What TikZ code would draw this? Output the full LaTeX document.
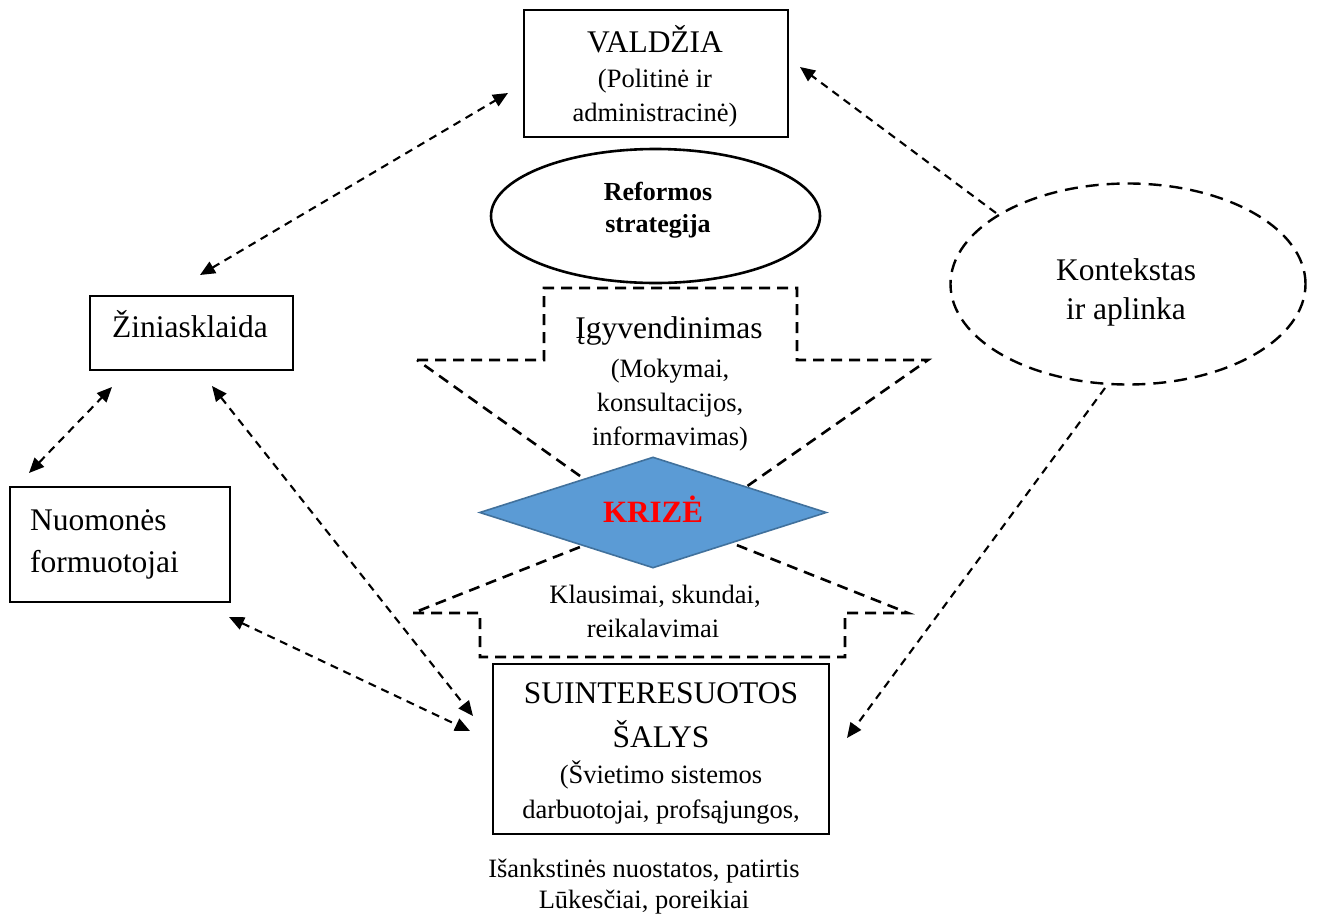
\documentclass[tikz,border=0pt]{standalone}
\usepackage{fontspec}
\setmainfont{Liberation Serif}
\usetikzlibrary{arrows.meta,shapes.geometric}
\definecolor{crisisfill}{HTML}{5B9BD5}
\definecolor{crisisedge}{HTML}{41719C}
\definecolor{crisisred}{HTML}{FF0000}
\tikzset{
  txtbig/.style={font=\fontsize{31.5}{36}\selectfont, inner sep=0pt, anchor=base},
  txtsmall/.style={font=\fontsize{26.5}{32}\selectfont, inner sep=0pt, anchor=base},
  txtbold/.style={font=\fontsize{26}{30}\selectfont\bfseries, inner sep=0pt, anchor=base},
  solidbox/.style={draw, line width=2pt, inner sep=0pt},
  bigarrow/.style={draw, line width=2.6pt, dash pattern=on 11pt off 7pt},
  conn/.style={line width=2.1pt, dash pattern=on 8pt off 6pt,
    {Triangle[length=15pt,width=13pt]}-{Triangle[length=15pt,width=13pt]}},
  conn1/.style={line width=2.1pt, dash pattern=on 8pt off 6pt,
    -{Triangle[length=15pt,width=13pt]}}
}
\begin{document}
\begin{tikzpicture}[x=1pt,y=-1pt]
\useasboundingbox (0,0) rectangle (1317,918);
\fill[white] (0,0) rectangle (1317,918);

% Reformos strategija ellipse
\node[solidbox, ellipse, line width=2.6pt, minimum width=329pt, minimum height=134pt] (ref) at (655.5,216) {};
\node[txtbold] (reft1) at (658,200) {Reformos};
\node[txtbold] (reft2) at (658,232) {strategija};

% implementation arrow (down)
\path[bigarrow] (417,360) -- (544,360) -- (544,288) -- (797,288) -- (797,360) -- (928,360) -- (670,540) -- cycle;
% feedback arrow (up)
\path[bigarrow] (413,613) -- (480,613) -- (480,657) -- (845,657) -- (845,613) -- (908,613) -- (661,515) -- cycle;

% crisis diamond
\node[diamond, fill=crisisfill, draw=crisisedge, line width=1.6pt, inner sep=0pt,
      minimum width=347pt, minimum height=111pt] (kriz) at (653,512.5) {};
\node[font=\fontsize{31}{36}\selectfont\bfseries, text=crisisred, inner sep=0pt, anchor=base] (krizt) at (653,522) {KRIZĖ};

\node[txtbig] (igy1) at (669,338) {Įgyvendinimas};
\node[txtsmall] (igy2) at (670,377) {(Mokymai,};
\node[txtsmall] (igy3) at (670,411) {konsultacijos,};
\node[txtsmall] (igy4) at (670,445) {informavimas)};

\node[txtsmall] (kla1) at (655,603) {Klausimai, skundai,};
\node[txtsmall] (kla2) at (653,637) {reikalavimai};

% VALDZIA
\node[solidbox, minimum width=264pt, minimum height=127pt] (val) at (656,73.5) {};
\node[txtbig] (valt1) at (655,52) {VALDŽIA};
\node[txtsmall] (valt2) at (655,87) {(Politinė ir};
\node[txtsmall] (valt3) at (655,121) {administracinė)};

% Ziniasklaida
\node[solidbox, minimum width=203pt, minimum height=74pt] (zin) at (191.5,333) {};
\node[txtbig] (zint) at (190,337) {Žiniasklaida};

% Nuomones formuotojai
\node[solidbox, minimum width=220pt, minimum height=115pt] (nuo) at (120,544.5) {};
\node[txtbig, anchor=base west] (nuot1) at (30,530) {Nuomonės};
\node[txtbig, anchor=base west] (nuot2) at (30,572) {formuotojai};

% Suinteresuotos salys
\node[solidbox, minimum width=336pt, minimum height=170pt] (sui) at (661,748.5) {};
\node[txtbig] (suit1) at (661,703) {SUINTERESUOTOS};
\node[txtbig] (suit2) at (661,747) {ŠALYS};
\node[txtsmall] (suit3) at (661,783) {(Švietimo sistemos};
\node[txtsmall] (suit4) at (661,818) {darbuotojai, profsąjungos,};

\node[txtsmall] (isa1) at (644,877) {Išankstinės nuostatos, patirtis};
\node[txtsmall] (isa2) at (644,908) {Lūkesčiai, poreikiai};

% Kontekstas ir aplinka
\node[bigarrow, ellipse, line width=2.4pt, dash pattern=on 13pt off 8pt, inner sep=0pt, minimum width=355pt, minimum height=201pt] (kon) at (1128,284) {};
\node[txtbig] (kont1) at (1126,280) {Kontekstas};
\node[txtbig] (kont2) at (1126,319) {ir aplinka};

% connector end points
\coordinate (val-w) at (508,93);
\coordinate (zin-n) at (200,275);
\coordinate (val-e) at (800,67);
\coordinate (kon-nw) at (996,213);
\coordinate (kon-s) at (1105,388);
\coordinate (sui-e) at (847,738);
\coordinate (zin-sw) at (112,387);
\coordinate (nuo-n) at (29,473);
\coordinate (zin-se) at (212,386);
\coordinate (sui-nw) at (473,716);
\coordinate (nuo-se) at (229,617);
\coordinate (sui-w) at (470,731);

\draw[conn] (zin-n) -- (val-w);
\draw[conn1] (kon-nw) -- (val-e);
\draw[conn1] (kon-s) -- (sui-e);
\draw[conn] (nuo-n) -- (zin-sw);
\draw[conn] (zin-se) -- (sui-nw);
\draw[conn] (nuo-se) -- (sui-w);
\end{tikzpicture}
\end{document}
